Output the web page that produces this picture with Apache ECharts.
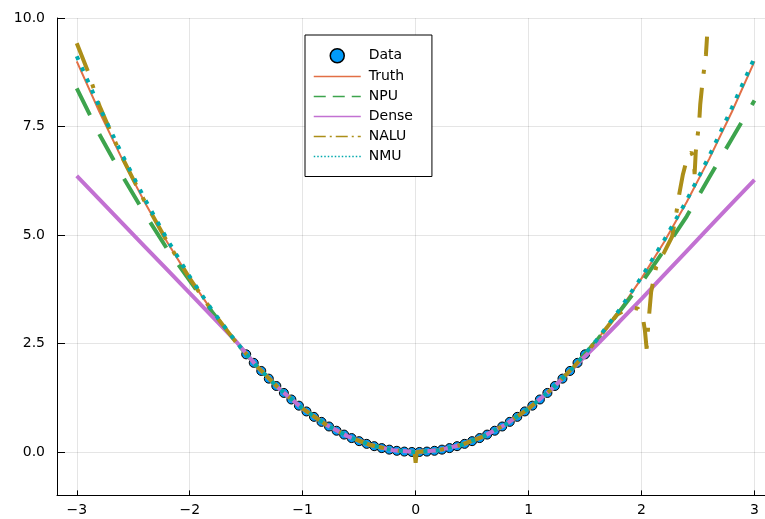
<!DOCTYPE html>
<html>
<head>
<meta charset="utf-8">
<script src="https://cdn.jsdelivr.net/npm/echarts@6/dist/echarts.min.js"></script>
<style>
  html, body { margin: 0; padding: 0; background: #fff; }
  #chart { width: 765px; height: 519px; }
</style>
</head>
<body>
<div id="chart"></div>
<script>
// Training samples on [-1.5, 1.5]
const dataX = [-1.5, -1.4333, -1.3667, -1.3, -1.2333, -1.1667, -1.1, -1.0333, -0.9667, -0.9,
  -0.8333, -0.7667, -0.7, -0.6333, -0.5667, -0.5, -0.4333, -0.3667, -0.3, -0.2333, -0.1667, -0.1, -0.0333,
  0.0333, 0.1, 0.1667, 0.2333, 0.3, 0.3667, 0.4333, 0.5, 0.5667, 0.6333, 0.7, 0.7667, 0.8333,
  0.9, 0.9667, 1.0333, 1.1, 1.1667, 1.2333, 1.3, 1.3667, 1.4333, 1.5];
const dataY = [2.25, 2.0544, 1.8678, 1.69, 1.5211, 1.3611, 1.21, 1.0678, 0.9344, 0.81,
  0.6944, 0.5878, 0.49, 0.4011, 0.3211, 0.25, 0.1878, 0.1344, 0.09, 0.0544, 0.0278, 0.01, 0.0011,
  0.0011, 0.01, 0.0278, 0.0544, 0.09, 0.1344, 0.1878, 0.25, 0.3211, 0.4011, 0.49, 0.5878, 0.6944,
  0.81, 0.9344, 1.0678, 1.21, 1.3611, 1.5211, 1.69, 1.8678, 2.0544, 2.25];

// Evaluation grid on [-3, 3] shared by the model curves
const xGrid = [-3.0, -2.8, -2.6, -2.4, -2.2, -2.0, -1.8, -1.6, -1.4, -1.2, -1.0, -0.8, -0.6, -0.4, -0.2,
  0.0, 0.2, 0.4, 0.6, 0.8, 1.0, 1.2, 1.4, 1.6, 1.8, 2.0, 2.2, 2.4, 2.6, 2.8, 3.0];
const truthY = [9.0, 7.84, 6.76, 5.76, 4.84, 4.0, 3.24, 2.56, 1.96, 1.44, 1.0, 0.64, 0.36, 0.16, 0.04,
  0.0, 0.04, 0.16, 0.36, 0.64, 1.0, 1.44, 1.96, 2.56, 3.24, 4.0, 4.84, 5.76, 6.76, 7.84, 9.0];
const npuY = [8.38, 7.32, 6.38, 5.5, 4.68, 3.95, 3.22, 2.56, 1.96, 1.44, 1.0, 0.64, 0.36, 0.16, 0.04,
  0.0, 0.04, 0.16, 0.36, 0.64, 1.0, 1.44, 1.96, 2.56, 3.22, 3.9, 4.65, 5.43, 6.33, 7.22, 8.1];
const denseY = [6.36, 5.82, 5.28, 4.74, 4.2, 3.66, 3.12, 2.58, 1.96, 1.44, 1.0, 0.64, 0.36, 0.16, 0.04,
  0.0, 0.04, 0.16, 0.36, 0.64, 1.0, 1.44, 1.95, 2.46, 2.99, 3.53, 4.08, 4.63, 5.18, 5.73, 6.27];
const nmuY = [9.12, 7.95, 6.86, 5.84, 4.9, 4.04, 3.26, 2.57, 1.96, 1.44, 1.0, 0.64, 0.36, 0.16, 0.04,
  0.0, 0.04, 0.16, 0.36, 0.64, 1.0, 1.44, 1.96, 2.57, 3.26, 4.03, 4.88, 5.8, 6.82, 7.93, 9.08];

// NALU output, sampled more finely where it misbehaves
const naluX = [-3.0, -2.9, -2.8, -2.7, -2.6, -2.5, -2.4, -2.2, -2.0, -1.8, -1.6, -1.4, -1.2, -1.0, -0.8,
  -0.6, -0.4, -0.2, -0.01, 0.0, 0.01, 0.2, 0.4, 0.6, 0.8, 1.0, 1.2, 1.4, 1.6, 1.7, 1.78, 1.9, 1.97,
  2.01, 2.03, 2.045, 2.06, 2.085, 2.13, 2.2, 2.27, 2.31, 2.335, 2.365, 2.41, 2.44, 2.46, 2.47, 2.48,
  2.51, 2.52, 2.54, 2.57, 2.58];
const naluY = [9.42, 8.76, 7.98, 7.38, 6.8, 6.28, 5.78, 4.85, 4.0, 3.24, 2.56, 1.96, 1.44, 1.0, 0.64,
  0.36, 0.16, 0.04, 0.0, -0.25, 0.0, 0.04, 0.16, 0.36, 0.64, 1.0, 1.44, 1.96, 2.56, 2.89, 3.16, 3.34, 3.3,
  3.12, 2.8, 2.38, 2.95, 3.69, 4.27, 4.6, 4.96, 5.54, 5.96, 6.38, 6.84, 6.9, 6.8, 6.4, 6.92,
  7.59, 8.02, 8.53, 9.15, 9.57];

const xTicks = [-3, -2, -1, 0, 1, 2, 3];
const yTicks = [0, 2.5, 5, 7.5, 10];

const pairs = (xs, ys) => xs.map((x, i) => [x, ys[i]]);
const minus = v => (v < 0 ? '\u2212' + (-v) : String(v));
const FONT = 'DejaVu Sans';
const gridColor = 'rgba(0,0,0,0.1)';
const noMarker = { color: 'rgba(0,0,0,0)', borderWidth: 0, opacity: 0 };

const chart = echarts.init(document.getElementById('chart'), null, { renderer: 'canvas' });

chart.setOption({
  animation: false,
  backgroundColor: '#ffffff',
  textStyle: { fontFamily: FONT },
  grid: { left: 57, right: 0, top: 18, bottom: 23.6, containLabel: false },
  xAxis: {
    type: 'value', min: -3.175, max: 3.093,
    axisLine: { show: true, onZero: false, lineStyle: { color: '#000', width: 1 } },
    axisTick: { show: true, inside: true, length: 5, customValues: xTicks, lineStyle: { color: '#000' } },
    axisLabel: { customValues: xTicks, formatter: minus, color: '#000', fontSize: 14, fontFamily: FONT, margin: 8 },
    splitLine: { show: true, customValues: xTicks, lineStyle: { color: gridColor, width: 1 } }
  },
  yAxis: {
    type: 'value', min: -1, max: 10,
    axisLine: { show: true, onZero: false, lineStyle: { color: '#000', width: 1 } },
    axisTick: { show: true, inside: true, length: 8, customValues: yTicks, lineStyle: { color: '#000' } },
    axisLabel: { customValues: yTicks, formatter: v => v.toFixed(1), color: '#000', fontSize: 14, fontFamily: FONT, margin: 12 },
    splitLine: { show: true, customValues: yTicks, lineStyle: { color: gridColor, width: 1 } }
  },
  legend: {
    orient: 'vertical', left: 305, top: 35,
    padding: [13, 19, 13, 8],
    itemWidth: 47, itemHeight: 14, itemGap: 6,
    backgroundColor: '#fff', borderColor: '#000', borderWidth: 1, borderRadius: 0,
    textStyle: { fontSize: 14, color: '#000', fontFamily: FONT, padding: [0, 0, 0, 3] },
    data: [
      { name: 'Data', icon: 'circle', itemStyle: { color: '#009af9', borderColor: '#000', borderWidth: 1.5 } },
      { name: 'Truth', itemStyle: noMarker, lineStyle: { width: 1.5, type: 'solid' } },
      { name: 'NPU', itemStyle: noMarker, lineStyle: { width: 1.5, type: [12, 7] } },
      { name: 'Dense', itemStyle: noMarker, lineStyle: { width: 1.5, type: 'solid' } },
      { name: 'NALU', itemStyle: noMarker, lineStyle: { width: 1.5, type: [12, 4, 2, 4] } },
      { name: 'NMU', itemStyle: noMarker, lineStyle: { width: 1.5, type: [1.5, 2] } }
    ]
  },
  series: [
    {
      name: 'Data', type: 'scatter', data: pairs(dataX, dataY),
      symbol: 'circle', symbolSize: 9,
      itemStyle: { color: '#009af9', borderColor: '#000', borderWidth: 1, opacity: 1 }
    },
    {
      name: 'Truth', type: 'line', data: pairs(xGrid, truthY), symbol: 'none',
      lineStyle: { color: '#e26f46', width: 2 }, itemStyle: { color: '#e26f46' }
    },
    {
      name: 'NPU', type: 'line', data: pairs(xGrid, npuY), symbol: 'none',
      lineStyle: { color: '#3da44d', width: 4, type: [30, 21] }, itemStyle: { color: '#3da44d' }
    },
    {
      name: 'Dense', type: 'line', data: pairs(xGrid, denseY), symbol: 'none',
      lineStyle: { color: '#c271d2', width: 4 }, itemStyle: { color: '#c271d2' }
    },
    {
      name: 'NALU', type: 'line', data: pairs(naluX, naluY), symbol: 'none',
      lineStyle: { color: '#ac8e18', width: 4, type: [30, 14, 4, 14] }, itemStyle: { color: '#ac8e18' }
    },
    {
      name: 'NMU', type: 'line', data: pairs(xGrid, nmuY), symbol: 'none',
      lineStyle: { color: '#00a9ad', width: 4, type: [4, 8.3] }, itemStyle: { color: '#00a9ad' }
    }
  ]
});
</script>
</body>
</html>
